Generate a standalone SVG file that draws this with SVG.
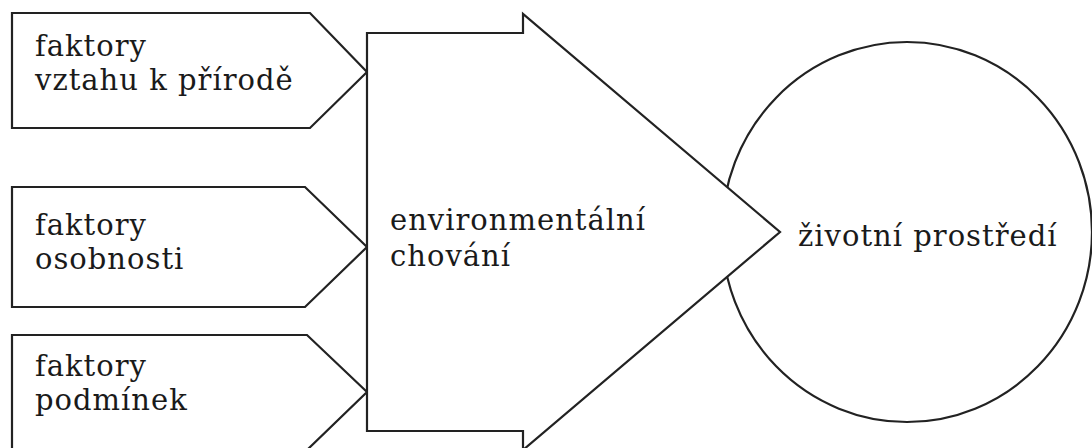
<svg xmlns="http://www.w3.org/2000/svg" width="1092" height="448" viewBox="0 0 1092 448">
<style>
.s{fill:#fff;stroke:#222;stroke-width:2.2;stroke-linejoin:miter}
text{font-family:"DejaVu Serif","Liberation Serif",serif;font-size:29px;letter-spacing:1px;fill:#1a1a1a}
</style>
<rect width="1092" height="448" fill="#fff"/>
<g id="zivotni-prostredi">
<ellipse class="s" cx="907" cy="232" rx="185" ry="190"/>
<text x="798" y="246">životní prostředí</text>
</g>
<g id="faktory-vztahu">
<polygon class="s" points="12,13 310,13 367,72 310,128 12,128"/>
<text x="35" y="56">faktory</text>
<text x="35" y="90">vztahu k přírodě</text>
</g>
<g id="faktory-osobnosti">
<polygon class="s" points="12,187 305,187 367,247 305,307 12,307"/>
<text x="35" y="235">faktory</text>
<text x="35" y="269">osobnosti</text>
</g>
<g id="faktory-podminek">
<polygon class="s" points="12,335 307,335 367,392 307,450 12,450"/>
<text x="35" y="376">faktory</text>
<text x="35" y="410">podmínek</text>
</g>
<g id="environmentalni-chovani">
<polygon class="s" points="367,33 523,33 523,14 780,232 523,450 523,431 367,431"/>
<text x="390" y="230">environmentální</text>
<text x="390" y="266">chování</text>
</g>
<g id="connectors"></g>
</svg>
